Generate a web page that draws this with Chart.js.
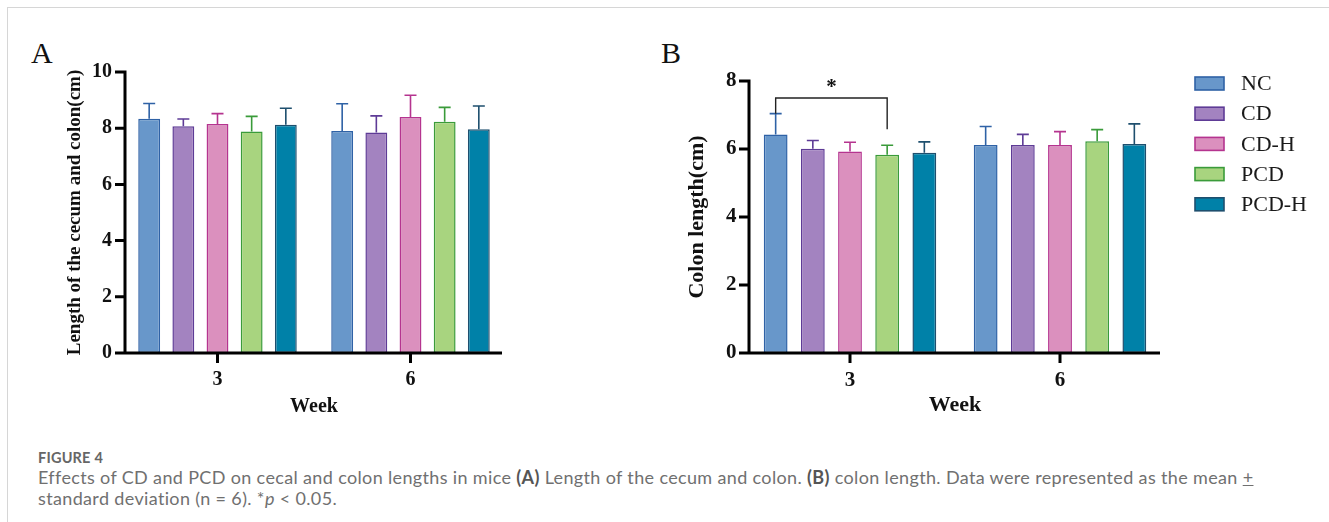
<!DOCTYPE html>
<html>
<head>
<meta charset="utf-8">
<script src="https://cdn.jsdelivr.net/npm/chart.js@4.4.1/dist/chart.umd.min.js"></script>
<style>
  html, body { margin:0; padding:0; background:#fff; }
  body { width:1329px; height:522px; overflow:hidden; position:relative; }
  #frame { position:absolute; left:7px; top:7px; width:1340px; height:530px;
           border-left:1px solid #d6d6d6; border-top:1px solid #d6d6d6; }
  .panel { position:absolute; font-family:"Liberation Serif", "Times New Roman", serif;
           font-size:30px; color:#111; line-height:30px; }
  canvas { position:absolute; top:0; }
  #figlabel { position:absolute; left:38px; top:449px; font-family:Lato, sans-serif; font-weight:700;
              font-size:14.5px; line-height:17px; color:#666; letter-spacing:0.2px; }
  #caption { position:absolute; left:38px; top:467px; font-family:Lato, sans-serif; font-size:18px;
             letter-spacing:0.35px; line-height:21px; color:#707070; white-space:nowrap; }
  #caption b { color:#555; }
</style>
</head>
<body>
<div id="frame"></div>
<div class="panel" style="left:31px;top:38px;">A</div>
<div class="panel" style="left:661px;top:38px;">B</div>
<canvas id="chartA" width="560" height="420" style="left:0px;"></canvas>
<canvas id="chartB" width="689" height="420" style="left:640px;"></canvas>
<div id="figlabel">FIGURE 4</div>
<div id="caption">Effects of CD and PCD on cecal and colon lengths in mice <b>(A)</b> Length of the cecum and colon. <b>(B)</b> colon length. Data were represented as the mean <u>+</u><br>standard deviation (n = 6). *<i>p</i> &lt; 0.05.</div>

<script>
// ---------------- DATA ----------------
const weeks  = ['3', '6'];
const groups = ['NC', 'CD', 'CD-H', 'PCD', 'PCD-H'];

// Panel A: length of the cecum and colon (cm), mean per week
const cecumColonNC   = [8.34, 7.90];
const cecumColonCD   = [8.07, 7.85];
const cecumColonCDH  = [8.15, 8.40];
const cecumColonPCD  = [7.88, 8.23];
const cecumColonPCDH = [8.12, 7.96];
// Panel A: standard deviations
const cecumColonSdNC   = [0.54, 0.97];
const cecumColonSdCD   = [0.26, 0.59];
const cecumColonSdCDH  = [0.37, 0.77];
const cecumColonSdPCD  = [0.54, 0.51];
const cecumColonSdPCDH = [0.59, 0.83];

// Panel B: colon length (cm), mean per week
const colonNC   = [6.43, 6.12];
const colonCD   = [6.01, 6.12];
const colonCDH  = [5.93, 6.12];
const colonPCD  = [5.83, 6.23];
const colonPCDH = [5.89, 6.15];
// Panel B: standard deviations
const colonSdNC   = [0.61, 0.54];
const colonSdCD   = [0.24, 0.31];
const colonSdCDH  = [0.27, 0.39];
const colonSdPCD  = [0.28, 0.34];
const colonSdPCDH = [0.32, 0.59];

// Panel B significance bracket (week 3, NC vs PCD)
const sigWeek   = '3';
const sigFrom   = 'NC';
const sigTo     = 'PCD';
const sigLevel  = 7.5;          // bracket height (cm)
const sigLegEnd = [7.04, 6.58]; // lower ends of the two legs (cm)
const sigMark   = '*';

// Axis ranges / ticks
const yMaxA = 10, yMaxB = 8, yStep = 2;

// ---------------- STYLE ----------------
const fills   = ['#6897CA', '#A383C0', '#DB90BE', '#A8D47F', '#0081A8'];
const borders = ['#2F62A6', '#5E3B96', '#B5348F', '#3A9B3A', '#1E4F6E'];
const serif = '"Liberation Serif", "Times New Roman", serif';

function makeDatasets(means, sds) {
  return groups.map((g, i) => ({
    label: g,
    data: means[i],
    sd: sds[i],
    backgroundColor: fills[i],
    borderColor: borders[i],
    borderWidth: 1.5,
    borderSkipped: false,
    categoryPercentage: 0.885,
    barPercentage: 0.64
  }));
}

const errorBars = {
  id: 'errorBars',
  afterDatasetsDraw(chart, args, opts) {
    const { ctx, scales: { y } } = chart;
    ctx.save();
    chart.data.datasets.forEach((ds, i) => {
      const meta = chart.getDatasetMeta(i);
      meta.data.forEach((el, j) => {
        const top = y.getPixelForValue(ds.data[j] + ds.sd[j]);
        ctx.strokeStyle = ds.borderColor;
        ctx.lineWidth = 1.6;
        ctx.beginPath();
        ctx.moveTo(el.x, el.y);
        ctx.lineTo(el.x, top);
        ctx.moveTo(el.x - opts.cap / 2, top);
        ctx.lineTo(el.x + opts.cap / 2, top);
        ctx.stroke();
      });
    });
    ctx.restore();
  }
};

const prismAxes = {
  id: 'prismAxes',
  afterDatasetsDraw(chart, args, opts) {
    const { ctx, chartArea: a, scales: { x, y } } = chart;
    const ax = a.left + opts.yOff;
    ctx.save();
    ctx.strokeStyle = '#000';
    ctx.lineWidth = 3;
    ctx.lineCap = 'butt';
    ctx.beginPath();
    ctx.moveTo(ax, y.getPixelForValue(y.max) - 1.5);
    ctx.lineTo(ax, a.bottom + 1.5);
    y.ticks.forEach(t => {
      const py = y.getPixelForValue(t.value);
      ctx.moveTo(ax - 10, py);
      ctx.lineTo(ax, py);
    });
    ctx.moveTo(ax - 10, a.bottom);
    ctx.lineTo(a.right - opts.xInset, a.bottom);
    x.ticks.forEach((t, i) => {
      const px = x.getPixelForTick(i);
      ctx.moveTo(px, a.bottom);
      ctx.lineTo(px, a.bottom + 10);
    });
    ctx.stroke();
    ctx.restore();
  }
};

const sigBracket = {
  id: 'sigBracket',
  afterDatasetsDraw(chart, args, opts) {
    if (!opts.enabled) return;
    const { ctx, scales: { y } } = chart;
    const xi = weeks.indexOf(sigWeek);
    const a = chart.getDatasetMeta(groups.indexOf(sigFrom)).data[xi].x;
    const b = chart.getDatasetMeta(groups.indexOf(sigTo)).data[xi].x;
    const yl = y.getPixelForValue(sigLevel);
    ctx.save();
    ctx.strokeStyle = '#222';
    ctx.lineWidth = 1.4;
    ctx.beginPath();
    ctx.moveTo(a, y.getPixelForValue(sigLegEnd[0]));
    ctx.lineTo(a, yl);
    ctx.lineTo(b, yl);
    ctx.lineTo(b, y.getPixelForValue(sigLegEnd[1]));
    ctx.stroke();
    ctx.fillStyle = '#111';
    ctx.font = 'bold 21px ' + serif;
    ctx.textAlign = 'center';
    ctx.textBaseline = 'alphabetic';
    ctx.fillText(sigMark, (a + b) / 2, yl - 5);
    ctx.restore();
  }
};

const customLegend = {
  id: 'customLegend',
  afterDraw(chart, args, opts) {
    if (!opts.enabled) return;
    const { ctx } = chart;
    ctx.save();
    chart.data.datasets.forEach((ds, i) => {
      const cy = opts.y0 + i * opts.gap;
      ctx.fillStyle = ds.backgroundColor;
      ctx.strokeStyle = ds.borderColor;
      ctx.lineWidth = 1.6;
      ctx.fillRect(opts.x0, cy - opts.h / 2, opts.w, opts.h);
      ctx.strokeRect(opts.x0, cy - opts.h / 2, opts.w, opts.h);
      ctx.fillStyle = '#1a1a1a';
      ctx.font = '22px ' + serif;
      ctx.textAlign = 'left';
      ctx.textBaseline = 'middle';
      ctx.fillText(ds.label, opts.tx, cy + 1);
    });
    ctx.restore();
  }
};

function makeChart(id, cfg) {
  return new Chart(document.getElementById(id), {
    type: 'bar',
    data: { labels: weeks, datasets: cfg.datasets },
    plugins: [errorBars, prismAxes, sigBracket, customLegend],
    options: {
      responsive: false,
      animation: false,
      devicePixelRatio: 1,
      layout: { padding: cfg.padding },
      plugins: {
        legend: { display: false },
        tooltip: { enabled: false },
        errorBars: { cap: 12 },
        prismAxes: { yOff: 4, xInset: 5 },
        sigBracket: { enabled: !!cfg.bracket },
        customLegend: cfg.legend || { enabled: false }
      },
      scales: {
        x: {
          offset: true,
          grid: { display: false, drawTicks: false, tickLength: 0 },
          border: { display: false },
          ticks: { color: '#111', font: { family: serif, size: cfg.tickSize, weight: 'bold' }, padding: 15, maxRotation: 0 },
          title: { display: true, text: 'Week', color: '#111',
                   font: { family: serif, size: cfg.weekSize, weight: 'bold', lineHeight: 1.2 },
                   padding: { top: 0, bottom: 1 } },
          afterFit(s) { s.height = cfg.xHeight; }
        },
        y: {
          min: 0, max: cfg.yMax,
          grid: { display: false, drawTicks: false, tickLength: 0 },
          border: { display: false },
          ticks: { stepSize: yStep, color: '#111', font: { family: serif, size: cfg.tickSize, weight: 'bold' }, padding: cfg.tickPad },
          title: { display: true, text: cfg.yTitle, color: '#111',
                   font: { family: serif, size: cfg.yTitleSize, weight: 'bold', lineHeight: 1.2 },
                   padding: { top: cfg.yTitlePad, bottom: 0 } },
          afterFit(s) { s.width = cfg.yWidth; }
        }
      }
    }
  });
}

makeChart('chartA', {
  datasets: makeDatasets(
    [cecumColonNC, cecumColonCD, cecumColonCDH, cecumColonPCD, cecumColonPCDH],
    [cecumColonSdNC, cecumColonSdCD, cecumColonSdCDH, cecumColonSdPCD, cecumColonSdPCDH]),
  padding: { left: 0, top: 72, right: 53, bottom: 0 },
  yWidth: 121, xHeight: 67, yMax: yMaxA,
  tickSize: 20, tickPad: 9, weekSize: 20,
  yTitle: 'Length of the cecum and colon(cm)', yTitleSize: 19, yTitlePad: 63.6
});

makeChart('chartB', {
  datasets: makeDatasets(
    [colonNC, colonCD, colonCDH, colonPCD, colonPCDH],
    [colonSdNC, colonSdCD, colonSdCDH, colonSdPCD, colonSdPCDH]),
  padding: { left: 0, top: 81, right: 164, bottom: 0 },
  yWidth: 105, xHeight: 67, yMax: yMaxB,
  tickSize: 21, tickPad: 8.5, weekSize: 22,
  yTitle: 'Colon length(cm)', yTitleSize: 22, yTitlePad: 43.8,
  bracket: true,
  legend: { enabled: true, x0: 555, w: 29, h: 13, y0: 83.5, gap: 30.2, tx: 601 }
});
</script>
</body>
</html>
